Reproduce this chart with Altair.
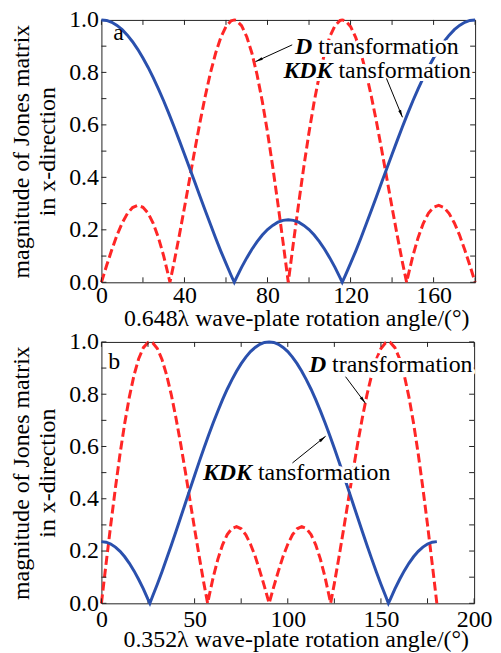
import altair as alt
import pandas as pd

FONT = "Liberation Serif"
FS = 24
BLUE = "#2a50ad"
RED = "#ff2626"
INK = "#222222"

# ---------------- panel a (0.648 lambda plate) ----------------
A_RED_DEG = [0, 2.5, 5, 7.5, 10, 12.5, 15, 17.5, 20, 22.5, 25, 27.5, 30, 32.5, 33,
             35, 37.5, 40, 42.5, 45, 47.5, 50, 52.5, 55, 57.5, 60, 62.5, 64,
             65, 67.5, 70, 72.5, 75, 77.5, 80, 82.5, 85, 87.5, 90, 92.5, 95, 97.5,
             100, 102.5, 105, 107.5, 110, 112.5, 115, 116,
             117.5, 120, 122.5, 125, 127.5, 130, 132.5, 135, 137.5, 140, 142.5, 145, 147,
             147.5, 150, 152.5, 155, 157.5, 160, 162.5, 165, 167.5, 170, 172.5, 175, 177.5, 180]
A_RED_VAL = [0.000, 0.064, 0.124, 0.180, 0.226, 0.262, 0.285, 0.293, 0.286, 0.263, 0.224, 0.169, 0.100, 0.018, 0.000,
             0.076, 0.178, 0.285, 0.395, 0.505, 0.611, 0.709, 0.798, 0.873, 0.933, 0.975, 0.997, 1.000,
             0.998, 0.978, 0.936, 0.873, 0.790, 0.689, 0.572, 0.441, 0.300, 0.152, 0.000, 0.152, 0.300, 0.441,
             0.572, 0.689, 0.790, 0.873, 0.936, 0.978, 0.998, 1.000,
             0.997, 0.975, 0.933, 0.873, 0.798, 0.709, 0.611, 0.505, 0.395, 0.285, 0.178, 0.076, 0.000,
             0.018, 0.100, 0.169, 0.224, 0.263, 0.286, 0.293, 0.285, 0.262, 0.226, 0.180, 0.124, 0.064, 0.000]

A_BLUE_DEG = [0, 2.5, 5, 7.5, 10, 12.5, 15, 17.5, 20, 22.5, 25, 27.5, 30, 32.5, 35, 37.5, 40, 42.5,
              45, 47.5, 50, 52.5, 55, 57.5, 60, 62.5, 64,
              65, 67.5, 70, 72.5, 75, 77.5, 80, 82.5, 85, 87.5, 90, 92.5, 95, 97.5, 100, 102.5,
              105, 107.5, 110, 112.5, 115, 116,
              117.5, 120, 122.5, 125, 127.5, 130, 132.5, 135, 137.5, 140, 142.5, 145, 147.5,
              150, 152.5, 155, 157.5, 160, 162.5, 165, 167.5, 170, 172.5, 175, 177.5, 180]
A_BLUE_VAL = [1.000, 0.998, 0.991, 0.979, 0.963, 0.942, 0.917, 0.888, 0.855, 0.819, 0.779, 0.736, 0.691, 0.643,
              0.593, 0.541, 0.488, 0.435, 0.381, 0.327, 0.274, 0.221, 0.169, 0.119, 0.072, 0.026, 0.000,
              0.017, 0.057, 0.093, 0.126, 0.155, 0.180, 0.201, 0.217, 0.229, 0.236, 0.238, 0.236, 0.229,
              0.217, 0.201, 0.180, 0.155, 0.126, 0.093, 0.057, 0.017, 0.000,
              0.026, 0.072, 0.119, 0.169, 0.221, 0.274, 0.327, 0.381, 0.435, 0.488, 0.541, 0.593, 0.643,
              0.691, 0.736, 0.779, 0.819, 0.855, 0.888, 0.917, 0.942, 0.963, 0.979, 0.991, 0.998, 1.000]

# ---------------- panel b (0.352 lambda plate) ----------------
B_RED_DEG = [0, 2.5, 5, 7.5, 10, 12.5, 15, 17.5, 20, 22.5, 25, 26,
             27.5, 30, 32.5, 35, 37.5, 40, 42.5, 45, 47.5, 50, 52.5, 55, 57,
             57.5, 60, 62.5, 65, 67.5, 70, 72.5, 75, 77.5, 80, 82.5, 85, 87.5, 90,
             92.5, 95, 97.5, 100, 102.5, 105, 107.5, 110, 112.5, 115, 117.5, 120, 122.5, 123,
             125, 127.5, 130, 132.5, 135, 137.5, 140, 142.5, 145, 147.5, 150, 152.5, 154,
             155, 157.5, 160, 162.5, 165, 167.5, 170, 172.5, 175, 177.5, 180]
B_RED_VAL = [0.000, 0.152, 0.300, 0.441, 0.572, 0.689, 0.790, 0.873, 0.936, 0.978, 0.998, 1.000,
             0.997, 0.975, 0.933, 0.873, 0.798, 0.709, 0.611, 0.505, 0.395, 0.285, 0.178, 0.076, 0.000,
             0.018, 0.100, 0.169, 0.224, 0.263, 0.286, 0.293, 0.285, 0.262, 0.226, 0.180, 0.124, 0.064, 0.000,
             0.064, 0.124, 0.180, 0.226, 0.262, 0.285, 0.293, 0.286, 0.263, 0.224, 0.169, 0.100, 0.018, 0.000,
             0.076, 0.178, 0.285, 0.395, 0.505, 0.611, 0.709, 0.798, 0.873, 0.933, 0.975, 0.997, 1.000,
             0.998, 0.978, 0.936, 0.873, 0.790, 0.689, 0.572, 0.441, 0.300, 0.152, 0.000]

B_BLUE_DEG = [0, 2.5, 5, 7.5, 10, 12.5, 15, 17.5, 20, 22.5, 25, 26,
              27.5, 30, 32.5, 35, 37.5, 40, 42.5, 45, 47.5, 50, 52.5, 55, 57.5, 60, 62.5, 65, 67.5,
              70, 72.5, 75, 77.5, 80, 82.5, 85, 87.5, 90, 92.5, 95, 97.5, 100, 102.5, 105, 107.5,
              110, 112.5, 115, 117.5, 120, 122.5, 125, 127.5, 130, 132.5, 135, 137.5, 140, 142.5,
              145, 147.5, 150, 152.5, 154,
              155, 157.5, 160, 162.5, 165, 167.5, 170, 172.5, 175, 177.5, 180]
B_BLUE_VAL = [0.236, 0.234, 0.227, 0.215, 0.199, 0.178, 0.153, 0.124, 0.091, 0.055, 0.015, 0.000,
              0.028, 0.073, 0.121, 0.171, 0.222, 0.275, 0.328, 0.382, 0.436, 0.489, 0.542, 0.593, 0.643,
              0.691, 0.736, 0.779, 0.819, 0.855, 0.888, 0.917, 0.942, 0.963, 0.979, 0.991, 0.998, 1.000,
              0.998, 0.991, 0.979, 0.963, 0.942, 0.917, 0.888, 0.855, 0.819, 0.779, 0.736, 0.691, 0.643,
              0.593, 0.542, 0.489, 0.436, 0.382, 0.328, 0.275, 0.222, 0.171, 0.121, 0.073, 0.028, 0.000,
              0.015, 0.055, 0.091, 0.124, 0.153, 0.178, 0.199, 0.215, 0.227, 0.234, 0.236]

# axis texts
A_XTITLE = "0.648\u03bb wave-plate rotation angle/(\u00b0)"
B_XTITLE = "0.352\u03bb wave-plate rotation angle/(\u00b0)"
YTITLE = ["magnitude of Jones matrix", "in x-direction"]
A_XLABELS = [0, 40, 80, 120, 160]
B_XLABELS = [0, 50, 100, 150, 200]
A_XTICKS = [0, 20, 40, 60, 80, 100, 120, 140, 160, 180]
B_XTICKS = [0, 25, 50, 75, 100, 125, 150, 175, 200]
YLABELS = [0.0, 0.2, 0.4, 0.6, 0.8, 1.0]
YTICKS = [0.0, 0.1, 0.2, 0.3, 0.4, 0.5, 0.6, 0.7, 0.8, 0.9, 1.0]

# annotations (data coordinates): anchor where the bold-italic part ends
A_ANN_X = [101.6, 111.3]
A_ANN_Y = [0.871, 0.778]
A_ANN_BOLD = ["D", "KDK"]
A_ANN_REST = ["transformation", "tansformation"]
B_ANN_X = [120.6, 80.8]
B_ANN_Y = [0.886, 0.471]
B_ANN_BOLD = ["D", "KDK"]
B_ANN_REST = ["transformation", "tansformation"]

# arrows: start -> head, with head direction (deg, clockwise from up)
A_ARR_X = [91.9, 137.3]
A_ARR_Y = [0.905, 0.777]
A_ARR_X2 = [74.2, 145.0]
A_ARR_Y2 = [0.841, 0.629]
A_ARR_ANG = [245, 158]
B_ARR_X = [131.0, 102.5]
B_ARR_Y = [0.867, 0.537]
B_ARR_X2 = [141.7, 120.3]
B_ARR_Y2 = [0.765, 0.639]
B_ARR_ANG = [143, 51]

A_LETTER = ("a", 5.7, 0.924)
B_LETTER = ("b", 3.7, 0.897)

ARROW_SHAPE = "M0,0L0.6,3L-0.6,3Z"


def panel(red_deg, red_val, blue_deg, blue_val, xmax, xlabels, xticks, xtitle,
          ann_x, ann_y, ann_bold, ann_rest, arr_x, arr_y, arr_x2, arr_y2, arr_ang,
          letter, width, height, label_pad):
    xs = alt.Scale(domain=[0, xmax], nice=False, zero=False)
    ys = alt.Scale(domain=[0, 1], nice=False, zero=False)

    xaxis = alt.Axis(values=xlabels, format="d", ticks=False, domain=False, grid=False,
                     tickSize=0, labelFlush=False, labelPadding=label_pad,
                     labelFont=FONT, labelFontSize=FS, labelColor="black",
                     title=xtitle, titleFont=FONT, titleFontSize=FS, titleFontWeight="normal",
                     titleColor="black", titleBaseline="alphabetic", titleY=43,
                     titleX=width / 2 + 8)
    yaxis = alt.Axis(values=YLABELS, format=".1f", ticks=False, domain=False, grid=False,
                     tickSize=0, labelFlush=False, labelPadding=3,
                     labelFont=FONT, labelFontSize=FS, labelColor="black",
                     title=YTITLE, titleFont=FONT, titleFontSize=FS, titleFontWeight="normal",
                     titleColor="black", titleBaseline="alphabetic", titleLineHeight=26,
                     titleAngle=270, titleX=-73, titleY=height / 2)

    def X(f="x"):
        return alt.X(f"{f}:Q", scale=xs, axis=xaxis, title=xtitle)

    def Y(f="y"):
        return alt.Y(f"{f}:Q", scale=ys, axis=yaxis, title=YTITLE)

    red = alt.Chart(pd.DataFrame({"x": red_deg, "y": red_val})).mark_line(
        color=RED, strokeWidth=3, strokeDash=[9, 4]).encode(x=X(), y=Y())
    blue = alt.Chart(pd.DataFrame({"x": blue_deg, "y": blue_val})).mark_line(
        color=BLUE, strokeWidth=3).encode(x=X(), y=Y())

    # inward tick marks on all four sides
    xlen = 5.0 / width * xmax
    ylen = 5.0 / height
    rows = []
    for t in xticks:
        rows.append({"x": t, "x2": t, "y": 0.0, "y2": ylen})
        rows.append({"x": t, "x2": t, "y": 1.0, "y2": 1.0 - ylen})
    for t in YTICKS:
        rows.append({"x": 0.0, "x2": xlen, "y": t, "y2": t})
        rows.append({"x": xmax, "x2": xmax - xlen, "y": t, "y2": t})
    ticks = alt.Chart(pd.DataFrame(rows)).mark_rule(color=INK, strokeWidth=1).encode(
        x=X(), x2="x2:Q", y=Y(), y2="y2:Q")

    ann = pd.DataFrame({"x": ann_x, "y": ann_y, "b": ann_bold, "r": ann_rest})
    layers_txt = []
    for halo in (True, False):
        kw = dict(font=FONT, fontSize=FS, baseline="alphabetic")
        if halo:
            kw.update(color="white", stroke="white", strokeWidth=6, strokeJoin="round")
        else:
            kw.update(color="black")
        layers_txt.append(alt.Chart(ann).mark_text(align="right", fontStyle="italic",
                                                   fontWeight="bold", **kw).encode(
            x=X(), y=Y(), text="b:N"))
        layers_txt.append(alt.Chart(ann).mark_text(align="left", dx=6, **kw).encode(
            x=X(), y=Y(), text="r:N"))

    arr = pd.DataFrame({"x": arr_x, "y": arr_y, "x2": arr_x2, "y2": arr_y2, "a": arr_ang})
    arr_lines = alt.Chart(arr).mark_rule(color="black", strokeWidth=1).encode(
        x=X(), y=Y(), x2="x2:Q", y2="y2:Q")
    arr_heads = alt.Chart(arr).mark_point(shape=ARROW_SHAPE, filled=True, size=25,
                                          color="black", opacity=1).encode(
        x=X("x2"), y=Y("y2"), angle=alt.Angle("a:Q", scale=None))

    let = alt.Chart(pd.DataFrame({"x": [letter[1]], "y": [letter[2]], "t": [letter[0]]})).mark_text(
        font=FONT, fontSize=FS, align="left", baseline="alphabetic", color="black").encode(
        x=X(), y=Y(), text="t:N")

    return alt.layer(red, ticks, blue, layers_txt[0], layers_txt[1], layers_txt[2], layers_txt[3],
                     arr_lines, arr_heads, let).properties(width=width, height=height)


pa = panel(A_RED_DEG, A_RED_VAL, A_BLUE_DEG, A_BLUE_VAL, 180, A_XLABELS, A_XTICKS, A_XTITLE,
           A_ANN_X, A_ANN_Y, A_ANN_BOLD, A_ANN_REST, A_ARR_X, A_ARR_Y, A_ARR_X2, A_ARR_Y2, A_ARR_ANG,
           A_LETTER, 376, 264, 1)
pb = panel(B_RED_DEG, B_RED_VAL, B_BLUE_DEG, B_BLUE_VAL, 200, B_XLABELS, B_XTICKS, B_XTITLE,
           B_ANN_X, B_ANN_Y, B_ANN_BOLD, B_ANN_REST, B_ARR_X, B_ARR_Y, B_ARR_X2, B_ARR_Y2, B_ARR_ANG,
           B_LETTER, 375, 263, 4)

chart = alt.vconcat(pa, pb, spacing=-2).properties(
    padding={"left": 1, "top": -3, "right": 0, "bottom": 0},
    background="white",
).configure_view(stroke=INK, strokeWidth=1)

chart.save("out.html", embed_options={"renderer": "svg", "actions": False})
